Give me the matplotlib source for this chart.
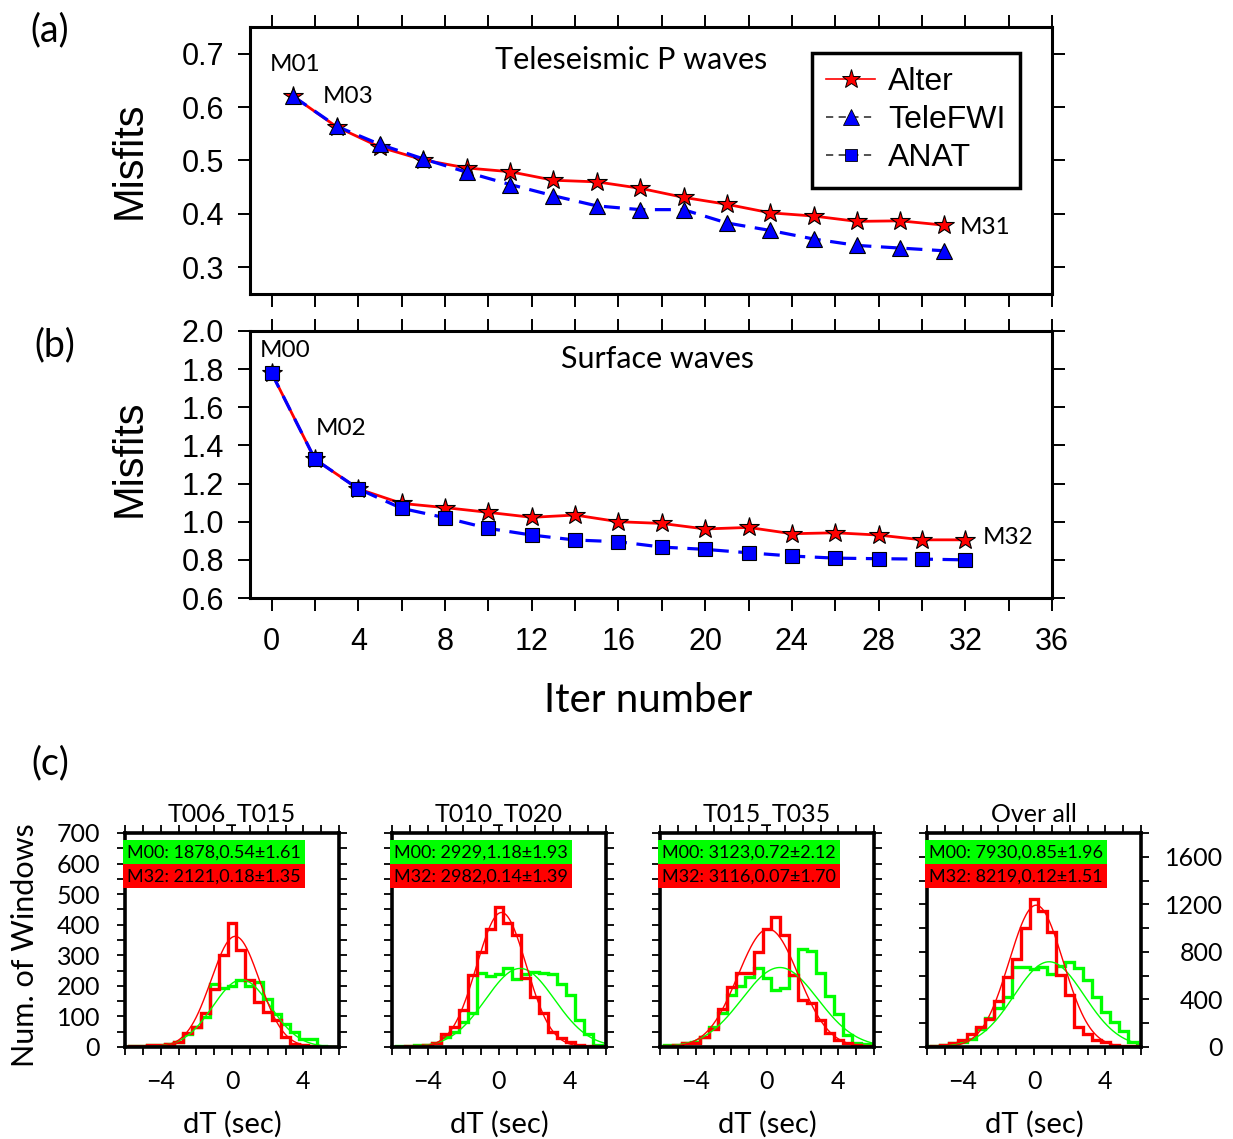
import numpy as np
import matplotlib
matplotlib.use("Agg")
import matplotlib.pyplot as plt
from matplotlib.lines import Line2D
from matplotlib.ticker import MultipleLocator

plt.rcParams['font.family'] = ['Liberation Sans', 'DejaVu Sans']
HUM = ['Lato', 'DejaVu Sans']

# ---- misfit curves ----
iter_a = [1, 3, 5, 7, 9, 11, 13, 15, 17, 19, 21, 23, 25, 27, 29, 31]
alter_a = [0.620, 0.563, 0.525, 0.501, 0.486, 0.479, 0.463, 0.460, 0.448, 0.431,
           0.418, 0.402, 0.396, 0.386, 0.387, 0.379]
telefwi_a = [0.620, 0.564, 0.530, 0.503, 0.478, 0.455, 0.434, 0.415, 0.408, 0.408,
             0.383, 0.369, 0.353, 0.341, 0.336, 0.331]

iter_b = [0, 2, 4, 6, 8, 10, 12, 14, 16, 18, 20, 22, 24, 26, 28, 30, 32]
alter_b = [1.779, 1.327, 1.172, 1.096, 1.074, 1.049, 1.023, 1.035, 1.000, 0.991,
           0.962, 0.970, 0.937, 0.942, 0.930, 0.905, 0.905]
anat_b = [1.779, 1.327, 1.172, 1.070, 1.021, 0.965, 0.930, 0.904, 0.895, 0.867,
          0.855, 0.837, 0.820, 0.809, 0.806, 0.804, 0.800]

# ---- dT histograms (bin centres -6..6 step 0.5) ----
bin_centers = np.arange(-6.0, 6.01, 0.5)
hist_titles = ['T006_T015', 'T010_T020', 'T015_T035', 'Over all']
m00_counts = [
    [0, 2, 3, 5, 7, 10, 16, 44, 65, 98, 207, 194, 199, 220, 199, 213, 158, 109, 76, 49, 27, 27, 3, 1, 0],
    [1, 2, 3, 5, 8, 12, 34, 50, 83, 112, 243, 232, 238, 259, 221, 238, 244, 241, 238, 206, 170, 88, 42, 5, 2],
    [3, 5, 8, 12, 17, 34, 66, 110, 170, 199, 230, 257, 225, 186, 192, 235, 319, 314, 241, 167, 108, 39, 12, 10, 5],
    [5, 10, 18, 30, 45, 70, 150, 240, 325, 423, 675, 675, 652, 669, 610, 680, 717, 661, 563, 423, 297, 213, 134, 45, 10],
]
m32_counts = [
    [0, 2, 3, 5, 7, 11, 16, 46, 65, 111, 191, 300, 406, 317, 218, 147, 115, 87, 33, 11, 5, 2, 1, 0, 0],
    [0, 1, 2, 3, 6, 14, 42, 66, 121, 235, 312, 385, 457, 404, 366, 225, 165, 110, 50, 28, 15, 6, 3, 1, 0],
    [1, 3, 7, 12, 14, 34, 59, 124, 197, 241, 241, 312, 386, 424, 366, 235, 154, 143, 88, 47, 23, 14, 7, 4, 2],
    [3, 8, 17, 31, 59, 109, 171, 236, 383, 587, 744, 1002, 1243, 1145, 969, 607, 434, 171, 109, 59, 39, 17, 11, 5, 2],
]
m00_n = [1878, 2929, 3123, 7930]
m00_mean = [0.54, 1.18, 0.72, 0.85]
m00_std = [1.61, 1.93, 2.12, 1.96]
m00_peak = [220, 257, 260, 717]
m32_n = [2121, 2982, 3116, 8219]
m32_mean = [0.18, 0.14, 0.07, 0.12]
m32_std = [1.35, 1.39, 1.70, 1.51]
m32_peak = [362, 440, 386, 1193]

W, H = 1233, 1139
fig = plt.figure(figsize=(W / 100, H / 100), dpi=100)


def px_axes(left, top, right, bottom):
    return fig.add_axes([left / W, 1 - bottom / H, (right - left) / W, (bottom - top) / H])


def frame(ax, lw):
    for s in ax.spines.values():
        s.set_linewidth(lw)
        s.set_color('black')


# ================= panels (a) and (b) =================
axA = px_axes(250, 27, 1052, 294)
axB = px_axes(250, 331, 1052, 598)

for ax in (axA, axB):
    ax.set_xlim(-1, 36)
    ax.xaxis.set_major_locator(MultipleLocator(4))
    ax.xaxis.set_minor_locator(MultipleLocator(2))
    ax.tick_params(which='both', direction='out', top=True, right=True,
                   length=9, width=1.4, labelsize=22)
    ax.tick_params(axis='y', pad=9.5)
    ax.tick_params(axis='x', pad=12)
    frame(ax, 2.2)

axA.set_ylim(0.25, 0.75)
axA.yaxis.set_major_locator(MultipleLocator(0.1))
axA.tick_params(labelbottom=False)
axB.set_ylim(0.6, 2.0)
axB.yaxis.set_major_locator(MultipleLocator(0.2))
axB.yaxis.set_major_formatter(matplotlib.ticker.FormatStrFormatter('%.1f'))

star = dict(marker='*', markersize=15, markerfacecolor='red', markeredgecolor='black',
            markeredgewidth=0.8)
axA.plot(iter_a, alter_a, color='red', lw=2, **star)
axA.plot(iter_a, telefwi_a, color='blue', lw=2.3, ls=(0, (5, 3)), marker='^', markersize=12,
         markerfacecolor='blue', markeredgecolor='black', markeredgewidth=0.8)
axB.plot(iter_b, alter_b, color='red', lw=2, **star)
axB.plot(iter_b, anat_b, color='blue', lw=2.3, ls=(0, (5, 3)), marker='s', markersize=10,
         markerfacecolor='blue', markeredgecolor='black', markeredgewidth=0.8)

axA.text(1.1, 0.679, 'M01', fontsize=17.5, family=HUM, ha='center', va='center')
axA.text(2.35, 0.619, 'M03', fontsize=17.5, family=HUM, ha='left', va='center')
axA.text(31.75, 0.375, 'M31', fontsize=17.5, family=HUM, ha='left', va='center')
axA.text(16.6, 0.689, 'Teleseismic P waves', fontsize=22, family=HUM, ha='center', va='center')
axB.text(-0.55, 1.90, 'M00', fontsize=17.5, family=HUM, ha='left', va='center')
axB.text(2.05, 1.49, 'M02', fontsize=17.5, family=HUM, ha='left', va='center')
axB.text(32.8, 0.916, 'M32', fontsize=17.5, family=HUM, ha='left', va='center')
axB.text(17.8, 1.853, 'Surface waves', fontsize=22, family=HUM, ha='center', va='center')

handles = [
    Line2D([], [], color='red', lw=1.2, marker='*', markersize=14, markerfacecolor='red',
           markeredgecolor='black', markeredgewidth=0.7),
    Line2D([], [], color='#444444', lw=1.3, ls=(0, (4, 3)), marker='^', markersize=11,
           markerfacecolor='blue', markeredgecolor='black', markeredgewidth=0.6),
    Line2D([], [], color='#444444', lw=1.3, ls=(0, (4, 3)), marker='s', markersize=8,
           markerfacecolor='blue', markeredgecolor='black', markeredgewidth=0.6),
]
leg = axA.legend(handles, ['Alter', 'TeleFWI', 'ANAT'], loc='upper right',
                 bbox_to_anchor=(0.960, 0.903), borderaxespad=0, fontsize=23,
                 handlelength=1.55, handletextpad=0.4, labelspacing=0.25,
                 borderpad=0.45, fancybox=False, framealpha=1)
leg.get_frame().set_edgecolor('black')
leg.get_frame().set_linewidth(2.5)

fig.text(130 / W, 1 - 160 / H, 'Misfits', fontsize=30, rotation=90, ha='center', va='center')
fig.text(130 / W, 1 - 458 / H, 'Misfits', fontsize=30, rotation=90, ha='center', va='center')
fig.text(648 / W, 1 - 700 / H, 'Iter number', fontsize=29, family=HUM, ha='center', va='center')
fig.text(50 / W, 1 - 30 / H, '(a)', fontsize=27, family=HUM, ha='center', va='center')
fig.text(55 / W, 1 - 345 / H, '(b)', fontsize=27, family=HUM, ha='center', va='center')
fig.text(50 / W, 1 - 763 / H, '(c)', fontsize=27, family=HUM, ha='center', va='center')

# ================= panel (c) =================
edges = np.append(bin_centers - 0.25, bin_centers[-1] + 0.25)
curve_x = np.linspace(-6, 6, 300)
lefts = [125, 392, 660, 927]
for i, left in enumerate(lefts):
    ax = px_axes(left, 833, left + 214, 1047)
    ax.stairs(m00_counts[i], edges, color='#00ff00', lw=2.4)
    ax.stairs(m32_counts[i], edges, color='red', lw=2.4)
    g00 = m00_peak[i] * np.exp(-0.5 * ((curve_x - m00_mean[i]) / m00_std[i]) ** 2)
    g32 = m32_peak[i] * np.exp(-0.5 * ((curve_x - m32_mean[i]) / m32_std[i]) ** 2)
    ax.plot(curve_x, g00, color='#00ff00', lw=1)
    ax.plot(curve_x, g32, color='red', lw=1)
    ax.set_xlim(-6, 6)
    ax.xaxis.set_major_locator(MultipleLocator(4))
    ax.xaxis.set_minor_locator(MultipleLocator(1))
    if i < 3:
        ax.set_ylim(0, 700)
        ax.yaxis.set_major_locator(MultipleLocator(100))
        ax.yaxis.set_minor_locator(MultipleLocator(50))
    else:
        ax.set_ylim(0, 1800)
        ax.yaxis.set_major_locator(MultipleLocator(400))
        ax.yaxis.set_minor_locator(MultipleLocator(200))
    ax.tick_params(which='both', direction='out', top=True, right=True, length=6,
                   width=1.3, labelsize=18)
    ax.tick_params(axis='x', pad=10.5)
    ax.tick_params(axis='y', pad=12)
    ax.tick_params(labelleft=(i == 0))
    if i == 3:
        ax.tick_params(axis='y', labelright=True, pad=53)
        for lbl in ax.get_yticklabels():
            lbl.set_horizontalalignment('right')
    frame(ax, 2.6)
    plt.setp(ax.get_xticklabels() + ax.get_yticklabels(), family=HUM)
    ax.set_title(hist_titles[i], fontsize=18, family=HUM, pad=8)
    ax.set_xlabel('dT (sec)', fontsize=21, family=HUM, labelpad=13)
    ax.text(0.01, 0.948, 'M00: %d,%.2f\u00b1%.2f' % (m00_n[i], m00_mean[i], m00_std[i]),
            transform=ax.transAxes, fontsize=13, family=HUM, ha='left', va='top',
            bbox=dict(boxstyle='square,pad=0.22', fc='#00ff00', ec='none'))
    ax.text(0.01, 0.835, 'M32: %d,%.2f\u00b1%.2f' % (m32_n[i], m32_mean[i], m32_std[i]),
            transform=ax.transAxes, fontsize=13, family=HUM, ha='left', va='top',
            bbox=dict(boxstyle='square,pad=0.22', fc='red', ec='none'))

fig.text(25 / W, 1 - 945 / H, 'Num. of Windows', fontsize=22, family=HUM, rotation=90,
         ha='center', va='center')

fig.savefig('out.png', dpi=100)
